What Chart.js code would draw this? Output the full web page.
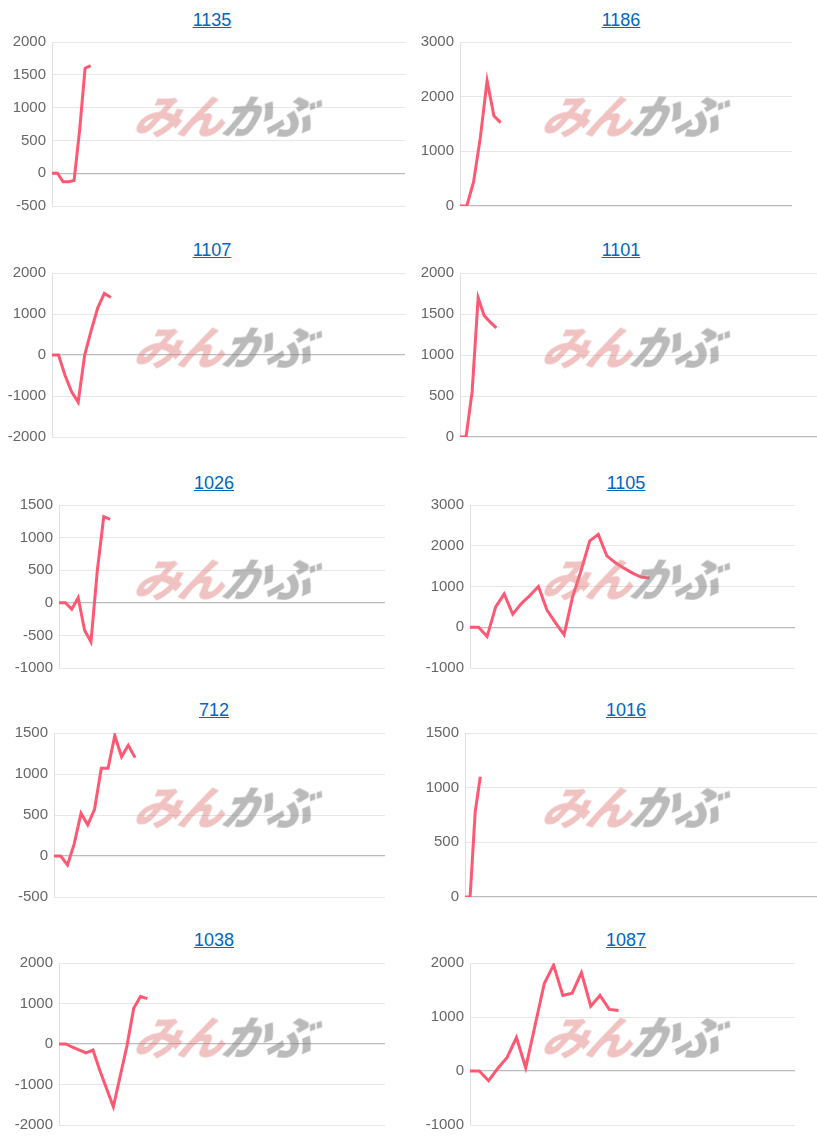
<!DOCTYPE html>
<html><head><meta charset="utf-8">
<script src="https://cdn.jsdelivr.net/npm/chart.js@4"></script>
<style>
body{margin:0;background:#fff;width:817px;height:1140px;position:relative;overflow:hidden;font-family:Arial,"Liberation Sans",sans-serif}
.t{position:absolute;font-size:18px;color:#0066c0;text-decoration:underline;transform:translateX(-50%);white-space:nowrap}
.c{position:absolute}
.wm{position:absolute;font-family:"Noto Sans CJK JP";font-weight:900;font-style:italic;font-size:46px;letter-spacing:-2px;white-space:nowrap;transform:skewX(-12deg);z-index:2;pointer-events:none;line-height:1}
.wm .a{color:rgba(225,120,120,0.45)}.wm .b{color:rgba(130,130,130,0.55)}
</style></head><body>
<script>
const titles=["1135","1186","1107","1101","1026","1105","712","1016","1038","1087"];
const labelCounts=[65,50,55,60,52,39,50,70,49,36];
const s1135=[0,0,-130,-130,-110,650,1600,1640];
const s1186=[0,0,440,1250,2290,1650,1525];
const s1107=[0,0,-500,-900,-1150,0,600,1150,1500,1400];
const s1101=[0,0,550,1700,1480,1400,1330];
const s1026=[0,0,-100,80,-420,-600,500,1320,1280];
const s1105=[0,0,-230,500,820,320,580,780,1000,420,110,-180,750,1400,2120,2280,1750,1580,1450,1330,1230,1210];
const s712=[0,0,-110,150,520,380,570,1070,1070,1470,1210,1350,1200];
const s1016=[0,0,780,1100];
const s1038=[0,0,-80,-150,-220,-150,-650,-1100,-1550,-800,-50,880,1170,1120];
const s1087=[0,0,-180,50,250,620,60,840,1620,1960,1400,1440,1820,1200,1400,1140,1120];
const series=[s1135,s1186,s1107,s1101,s1026,s1105,s712,s1016,s1038,s1087];
const yMin=[-500,0,-2000,0,-1000,-1000,-500,0,-2000,-1000];
const yMax=[2000,3000,2000,2000,1500,3000,1500,1500,2000,2000];
const ySteps=[500,1000,1000,500,500,1000,500,500,1000,1000];

const titleY=[21,251,484,711,941], plotTop=[41,272,504,732,962], plotBot=[206,437,668,897,1125];
const axisX=[52,460,52,460,59,470,54,465,59,470];
const rightX=[405,792,405,817,385,795,385,817,385,795];
const titleX=[212,621,212,621,214,626,214,626,214,626];
titles.forEach((t,i)=>{
  const r=Math.floor(i/2), left=i%2===0?0:410;
  const d=document.createElement('div');d.className='t';d.textContent=t;
  d.style.left=titleX[i]+'px';d.style.top=(titleY[r]-11)+'px';document.body.appendChild(d);
  const wm=document.createElement('div');wm.className='wm';
  wm.innerHTML='<span class="a">みん</span><span class="b">かぶ</span>';
  wm.style.left=(i%2===0?136:544)+'px';wm.style.top=(plotTop[r]+50)+'px';document.body.appendChild(wm);
  const top=plotTop[r]-14, h=plotBot[r]-top+15;
  const box=document.createElement('div');box.className='c';
  box.style.left=left+'px';box.style.top=top+'px';box.style.width=(rightX[i]-left)+'px';box.style.height=h+'px';
  const cv=document.createElement('canvas');box.appendChild(cv);document.body.appendChild(box);
  const labels=Array.from({length:labelCounts[i]},(_,k)=>String(k+1));
  new Chart(cv,{type:'line',data:{labels,datasets:[{data:series[i],borderColor:'rgb(255,88,115)',borderWidth:3,pointRadius:0,tension:0,fill:false}]},
    options:{responsive:true,maintainAspectRatio:false,animation:false,events:[],
      layout:{padding:0},
      plugins:{legend:{display:false},tooltip:{enabled:false}},
      scales:{x:{display:false},
        y:{min:yMin[i],max:yMax[i],ticks:{stepSize:ySteps[i],color:'#666',font:{size:15,family:'Arial'},padding:6,callback:v=>String(v)},
          border:{display:true,color:'#e0e0e0'},
          grid:{drawTicks:false,color:c=>c.tick&&c.tick.value===0?'#bbb':'#e6e6e6',lineWidth:c=>c.tick&&c.tick.value===0?1.3:1},
          afterFit:s=>{s.width=axisX[i]-left;}}}}});
});
</script></body></html>
